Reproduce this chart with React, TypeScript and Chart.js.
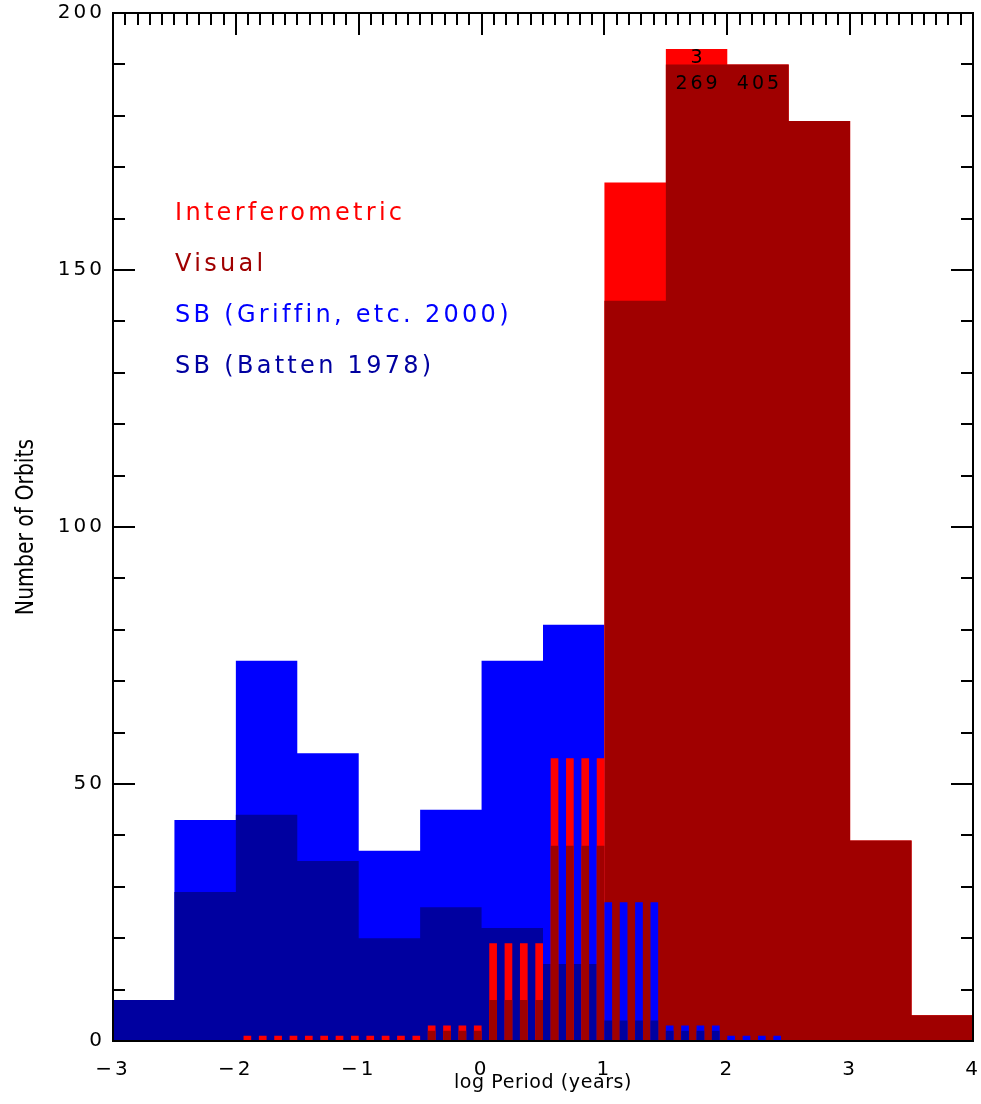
import React, { useEffect, useRef } from 'react';
import { Chart, registerables } from 'chart.js';

Chart.register(...registerables);

// ---- data ----
const binEdges = [-3, -2.5, -2, -1.5, -1, -0.5, 0, 0.5, 1, 1.5, 2, 2.5, 3, 3.5, 4];
const sbGriffin2000 = [8, 43, 74, 56, 37, 45, 74, 81, 27, 3, 1, 0, 0, 0];
const sbBatten1978 = [8, 29, 44, 35, 20, 26, 22, 15, 4, 2, 0, 0, 0, 0];
const visualOrbits = [0, 0, 0, 0, 0, 2, 8, 38, 144, 269, 405, 179, 39, 5];
const interferometricOrbits = [0, 0, 1, 1, 1, 1, 11, 17, 23, 3, 0, 0, 0, 0];
const displayCeiling = 190;
const xRange = [-3, 4];
const yRange = [0, 200];
const xTickStep = 1;
const yTickStep = 50;
const xAxisTitle = 'log Period (years)';
const yAxisTitle = 'Number of Orbits';
const legendLabels = ['Interferometric', 'Visual', 'SB (Griffin, etc. 2000)', 'SB (Batten 1978)'];

// ---- styles ----
const RED = '#ff0000';
const DARK_RED = '#a00000';
const BLUE = '#0000ff';
const DARK_BLUE = '#0000a0';
const legendColors = [RED, DARK_RED, BLUE, DARK_BLUE];
const FONT = "'DejaVu Sans', sans-serif";

// ---- derived series ----
const visualShown = visualOrbits.map((v) => Math.min(v, displayCeiling));
const redTotal = visualShown.map((v, i) => v + interferometricOrbits[i]);
const blueOnTop = sbGriffin2000.map((v, i) => v >= redTotal[i]);
const redOnTop = blueOnTop.map((b) => !b);
const keepWhere = (vals: number[], keep: boolean[]) => vals.map((v, i) => (keep[i] ? v : 0));

function histogram(vals: number[]) {
  return binEdges.map((x, i) => ({ x, y: vals[Math.min(i, vals.length - 1)] }));
}

function stripes(vals: number[], parity: number) {
  const pts: { x: number; y: number }[] = [];
  for (let i = 0; i < vals.length; i++) {
    const a = binEdges[i];
    const b = binEdges[i + 1];
    for (let j = 0; j < 8; j++) {
      pts.push({ x: a + ((b - a) * j) / 8, y: j % 2 === parity ? vals[i] : 0 });
    }
  }
  pts.push({ x: binEdges[binEdges.length - 1], y: 0 });
  return pts;
}

const area = (label: string, data: { x: number; y: number }[], color: string) => ({
  label,
  data,
  backgroundColor: color,
  borderColor: 'rgba(0,0,0,0)',
  borderWidth: 0,
  pointRadius: 0,
  pointHoverRadius: 0,
  fill: 'origin',
  stepped: true,
  tension: 0,
});

const fmtTick = (v: number) => (v < 0 ? '\u2212' + Math.abs(v) : String(v));

const decor = {
  id: 'decor',
  beforeDraw(chart: any) {
    chart.ctx.letterSpacing = '3px';
  },
  beforeDatasetsDraw(chart: any) {
    const { ctx, chartArea: a, scales } = chart;
    const x = scales.x;
    const y = scales.y;
    ctx.save();
    ctx.strokeStyle = '#000';
    ctx.lineWidth = 2;
    ctx.beginPath();
    for (let k = Math.round(x.min * 10); k <= Math.round(x.max * 10); k++) {
      const px = Math.round(x.getPixelForValue(k / 10));
      const len = k % 10 === 0 ? 22 : 12;
      ctx.moveTo(px, a.top);
      ctx.lineTo(px, a.top + len);
      ctx.moveTo(px, a.bottom);
      ctx.lineTo(px, a.bottom - len);
    }
    for (let v = y.min; v <= y.max; v += 10) {
      const py = Math.round(y.getPixelForValue(v));
      const len = v % 50 === 0 ? 22 : 12;
      ctx.moveTo(a.left, py);
      ctx.lineTo(a.left + len, py);
      ctx.moveTo(a.right, py);
      ctx.lineTo(a.right - len, py);
    }
    ctx.stroke();
    ctx.restore();
  },
  afterDatasetsDraw(chart: any) {
    const { ctx, chartArea: a, scales } = chart;
    const x = scales.x;
    const y = scales.y;
    ctx.save();
    ctx.strokeStyle = '#000';
    ctx.lineWidth = 2;
    ctx.strokeRect(a.left, a.top, a.right - a.left, a.bottom - a.top);

    // counts of clipped bars
    ctx.letterSpacing = '3px';
    ctx.font = `19px ${FONT}`;
    ctx.fillStyle = '#000';
    ctx.textAlign = 'center';
    ctx.textBaseline = 'middle';
    visualOrbits.forEach((v, i) => {
      if (v > displayCeiling) {
        const cx = x.getPixelForValue((binEdges[i] + binEdges[i + 1]) / 2);
        ctx.fillText(String(v), cx + 1.5, y.getPixelForValue(displayCeiling) + 20);
        const extra = interferometricOrbits[i];
        if (extra > 0) {
          ctx.fillText(String(extra), cx + 1.5, y.getPixelForValue(displayCeiling + extra / 2) + 1);
        }
      }
    });

    // legend text
    ctx.font = `24px ${FONT}`;
    ctx.letterSpacing = '3.3px';
    ctx.textAlign = 'left';
    ctx.textBaseline = 'alphabetic';
    legendLabels.forEach((t, i) => {
      ctx.fillStyle = legendColors[i];
      ctx.fillText(t, a.left + 62, a.top + 207 + i * 51);
    });

    // axis titles
    ctx.fillStyle = '#000';
    ctx.font = `19px ${FONT}`;
    ctx.letterSpacing = '0.6px';
    ctx.textAlign = 'center';
    ctx.textBaseline = 'middle';
    ctx.fillText(xAxisTitle, (a.left + a.right) / 2, 1083);

    ctx.letterSpacing = '0px';
    ctx.font = `24px ${FONT}`;
    ctx.translate(27, (a.top + a.bottom) / 2);
    ctx.rotate(-Math.PI / 2);
    ctx.scale(0.85, 1);
    ctx.fillText(yAxisTitle, 0, 0);
    ctx.restore();
  },
  afterDraw(chart: any) {
    chart.ctx.letterSpacing = '0px';
  },
};

export default function App() {
  const canvasRef = useRef<HTMLCanvasElement | null>(null);

  useEffect(() => {
    const canvas = canvasRef.current;
    if (!canvas) return;
    const chart = new Chart(canvas, {
      type: 'line',
      data: {
        datasets: [
          area('SB (Batten 1978) stripes', stripes(keepWhere(sbBatten1978, redOnTop), 0), DARK_BLUE),
          area('SB (Griffin, etc. 2000) stripes', stripes(keepWhere(sbGriffin2000, redOnTop), 0), BLUE),
          area('Visual stripes', stripes(keepWhere(visualShown, blueOnTop), 1), DARK_RED),
          area('Interferometric stripes', stripes(keepWhere(redTotal, blueOnTop), 1), RED),
          area('Visual', histogram(keepWhere(visualShown, redOnTop)), DARK_RED),
          area('Interferometric', histogram(keepWhere(redTotal, redOnTop)), RED),
          area('SB (Batten 1978)', histogram(keepWhere(sbBatten1978, blueOnTop)), DARK_BLUE),
          area('SB (Griffin, etc. 2000)', histogram(keepWhere(sbGriffin2000, blueOnTop)), BLUE),
        ] as any,
      },
      options: {
        responsive: false,
        maintainAspectRatio: false,
        animation: false,
        devicePixelRatio: 1,
        events: [],
        layout: { padding: { left: 0, right: 8, top: 13, bottom: 0 } },
        plugins: {
          legend: { display: false },
          tooltip: { enabled: false },
        },
        scales: {
          x: {
            type: 'linear',
            min: xRange[0],
            max: xRange[1],
            grid: { display: false },
            border: { display: false },
            ticks: {
              stepSize: xTickStep,
              autoSkip: false,
              maxRotation: 0,
              padding: 9,
              color: '#000',
              font: { family: FONT, size: 20 },
              callback: (v: any) => fmtTick(Number(v)),
            },
            afterFit: (s: any) => {
              s.height = 63;
              s.paddingLeft = 0;
              s.paddingRight = 0;
            },
          },
          y: {
            type: 'linear',
            min: yRange[0],
            max: yRange[1],
            grid: { display: false },
            border: { display: false },
            ticks: {
              stepSize: yTickStep,
              padding: 0,
              color: '#000',
              font: { family: FONT, size: 20 },
              callback: (v: any) => fmtTick(Number(v)),
            },
            afterFit: (s: any) => {
              s.width = 113;
              s.paddingTop = 0;
              s.paddingBottom = 0;
            },
          },
        },
      } as any,
      plugins: [decor],
    });
    return () => chart.destroy();
  }, []);

  return (
    <div style={{ position: 'absolute', left: 0, top: 0, width: 981, height: 1104, background: '#fff' }}>
      <canvas ref={canvasRef} width={981} height={1104} style={{ display: 'block' }} />
    </div>
  );
}
